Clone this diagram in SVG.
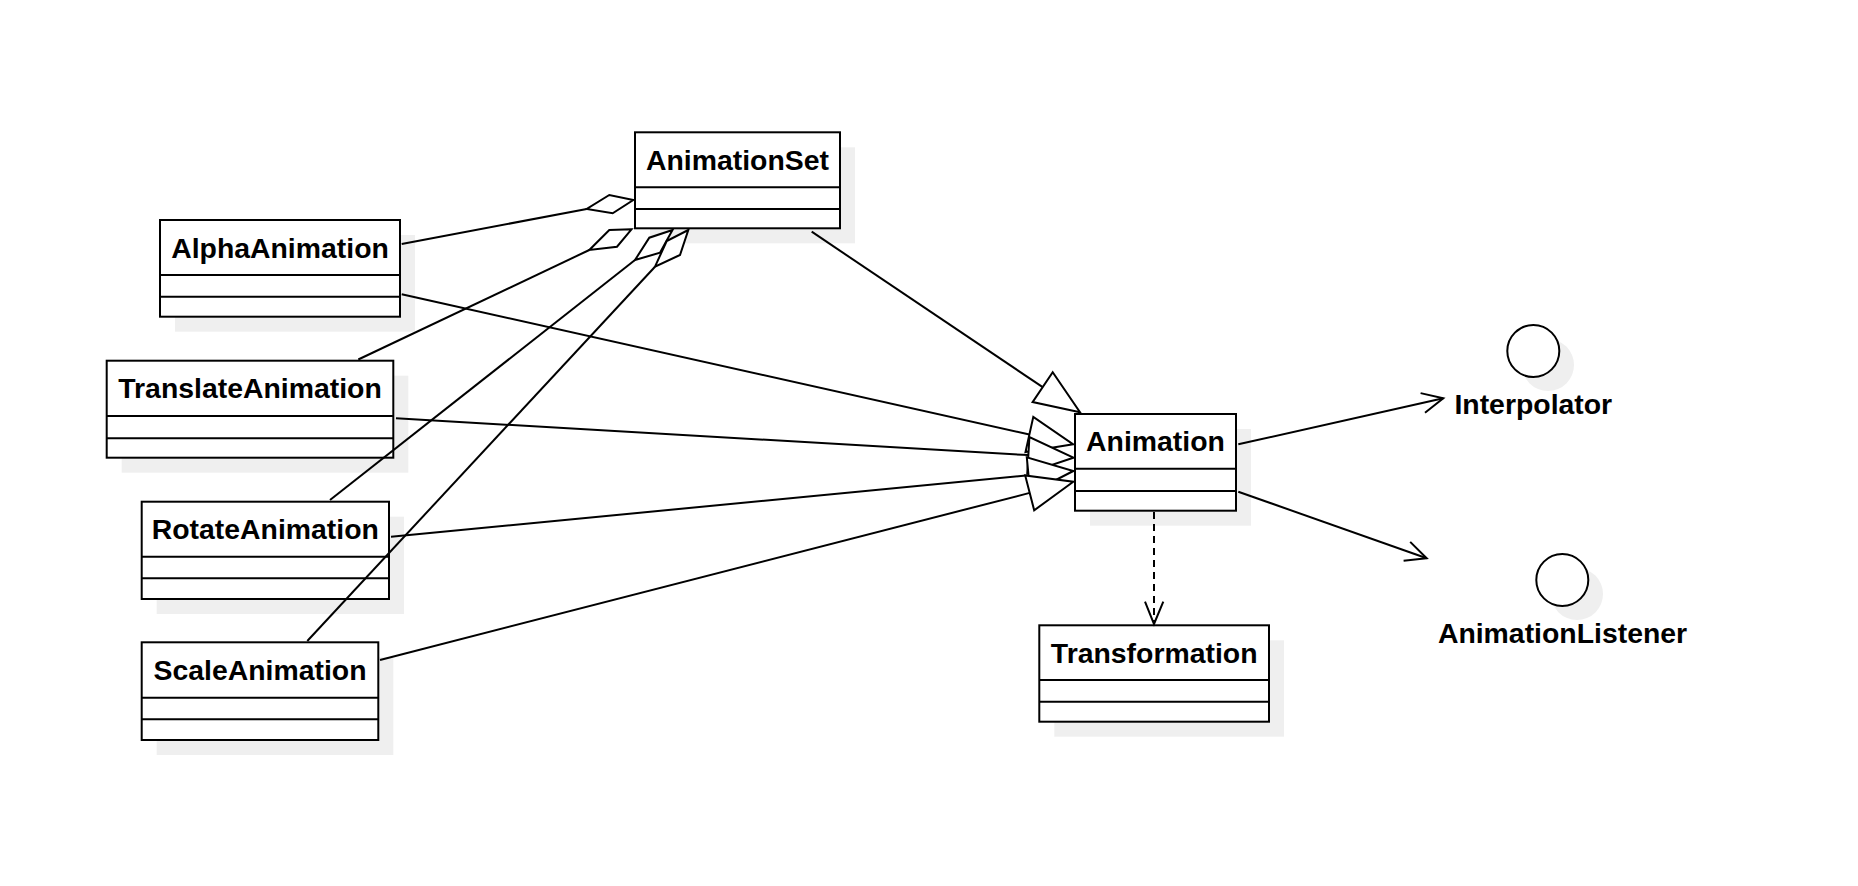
<svg xmlns="http://www.w3.org/2000/svg" width="1858" height="886" viewBox="0 0 1858 886">
<style>
.shadow{fill:#efefef;stroke:none}
.box{fill:#fff;stroke:#000;stroke-width:2}
.div{stroke:#000;stroke-width:2}
.name{font-family:"Liberation Sans",Arial,sans-serif;font-weight:bold;font-size:28.4px;fill:#000;text-anchor:middle}
.ln{fill:none;stroke:#000;stroke-width:2}
.dash{fill:none;stroke:#000;stroke-width:2;stroke-dasharray:7 5}
.tri{fill:#fff;stroke:#000;stroke-width:2;stroke-linejoin:miter}
.dia{fill:#fff;stroke:#000;stroke-width:2}
.open{fill:none;stroke:#000;stroke-width:2}
</style>
<rect width="1858" height="886" fill="#fff"/>
<g id="nodes">
<g id="AnimationSet">
<rect class="shadow" x="650" y="147.3" width="205" height="96"/>
<rect class="box" x="635" y="132.3" width="205" height="96"/>
<line class="div" x1="635" y1="187.3" x2="840" y2="187.3"/>
<line class="div" x1="635" y1="209" x2="840" y2="209"/>
<text class="name" x="737.5" y="170">AnimationSet</text>
</g>
<g id="AlphaAnimation">
<rect class="shadow" x="175" y="235" width="240" height="96.7"/>
<rect class="box" x="160" y="220" width="240" height="96.7"/>
<line class="div" x1="160" y1="275" x2="400" y2="275"/>
<line class="div" x1="160" y1="296.7" x2="400" y2="296.7"/>
<text class="name" x="280" y="257.5">AlphaAnimation</text>
</g>
<g id="TranslateAnimation">
<rect class="shadow" x="121.7" y="375.7" width="286.6" height="97"/>
<rect class="box" x="106.7" y="360.7" width="286.6" height="97"/>
<line class="div" x1="106.7" y1="416" x2="393.3" y2="416"/>
<line class="div" x1="106.7" y1="438.3" x2="393.3" y2="438.3"/>
<text class="name" x="250" y="398.2">TranslateAnimation</text>
</g>
<g id="RotateAnimation">
<rect class="shadow" x="156.7" y="516.7" width="247.3" height="97.3"/>
<rect class="box" x="141.7" y="501.7" width="247.3" height="97.3"/>
<line class="div" x1="141.7" y1="556.7" x2="389" y2="556.7"/>
<line class="div" x1="141.7" y1="578.3" x2="389" y2="578.3"/>
<text class="name" x="265.3" y="539.2">RotateAnimation</text>
</g>
<g id="ScaleAnimation">
<rect class="shadow" x="156.7" y="657.3" width="236.6" height="97.7"/>
<rect class="box" x="141.7" y="642.3" width="236.6" height="97.7"/>
<line class="div" x1="141.7" y1="697.7" x2="378.3" y2="697.7"/>
<line class="div" x1="141.7" y1="719.3" x2="378.3" y2="719.3"/>
<text class="name" x="260" y="679.8">ScaleAnimation</text>
</g>
<g id="Animation">
<rect class="shadow" x="1090" y="429" width="161" height="96.7"/>
<rect class="box" x="1075" y="414" width="161" height="96.7"/>
<line class="div" x1="1075" y1="468.7" x2="1236" y2="468.7"/>
<line class="div" x1="1075" y1="491" x2="1236" y2="491"/>
<text class="name" x="1155.5" y="451">Animation</text>
</g>
<g id="Transformation">
<rect class="shadow" x="1054.3" y="640.3" width="229.7" height="96.4"/>
<rect class="box" x="1039.3" y="625.3" width="229.7" height="96.4"/>
<line class="div" x1="1039.3" y1="680" x2="1269" y2="680"/>
<line class="div" x1="1039.3" y1="701.7" x2="1269" y2="701.7"/>
<text class="name" x="1154.2" y="663">Transformation</text>
</g>
<g id="Interpolator">
<circle class="shadow" cx="1548" cy="365" r="26"/>
<circle class="box" cx="1533.3" cy="351" r="26"/>
<text class="name" x="1533.3" y="414">Interpolator</text>
</g>
<g id="AnimationListener">
<circle class="shadow" cx="1577" cy="594" r="26"/>
<circle class="box" cx="1562.3" cy="580" r="26"/>
<text class="name" x="1562.5" y="642.7">AnimationListener</text>
</g>
</g>
<g id="connectors">
<!-- aggregations to AnimationSet -->
<line class="ln" x1="401.7" y1="244" x2="586.7" y2="209"/>
<polygon class="dia" points="633.3,200 609.3,195 586.7,209 612.7,213.3"/>
<line class="ln" x1="358.3" y1="359.5" x2="589.3" y2="250"/>
<polygon class="dia" points="631.5,229.3 609.3,230 589.3,250 617,246.7"/>
<line class="ln" x1="330" y1="500" x2="635" y2="260"/>
<polygon class="dia" points="672.5,230 649.3,237.7 635,260 660,252.7"/>
<line class="ln" x1="307.3" y1="641" x2="655" y2="266.7"/>
<polygon class="dia" points="688.3,230 666.7,241 655,266.7 680,255"/>
<!-- generalizations to Animation -->
<line class="ln" x1="811.7" y1="231.7" x2="1042.7" y2="387.2"/>
<polygon class="tri" points="1080,412.3 1032.6,402.1 1052.7,372.3"/>
<line class="ln" x1="401.7" y1="294.3" x2="1029.4" y2="434.5"/>
<line class="ln" x1="396" y1="418.3" x2="1028.4" y2="455.1"/>
<line class="ln" x1="391" y1="536.7" x2="1028.5" y2="475.3"/>
<line class="ln" x1="380" y1="660" x2="1029.7" y2="492.9"/>
<polygon class="tri" points="1073.3,444.3 1025.5,452.1 1033.3,416.9"/>
<polygon class="tri" points="1073.3,457.7 1027.3,473.1 1029.4,437.1"/>
<polygon class="tri" points="1073.3,471 1030.2,493.2 1026.8,457.4"/>
<polygon class="tri" points="1073.3,481.7 1034.2,510.3 1025.2,475.5"/>
<!-- associations -->
<line class="ln" x1="1238.3" y1="444.3" x2="1443.3" y2="398.3"/>
<polyline class="open" points="1420.6,393.1 1443.3,398.3 1425,412.7"/>
<line class="ln" x1="1238.3" y1="491.7" x2="1426.7" y2="558.3"/>
<polyline class="open" points="1410.2,541.9 1426.7,558.3 1403.6,560.7"/>
<!-- dependency -->
<line class="dash" x1="1154" y1="512" x2="1154" y2="623"/>
<polyline class="open" points="1145,601.7 1154,624 1163.3,601.7"/>
</g>
</svg>
